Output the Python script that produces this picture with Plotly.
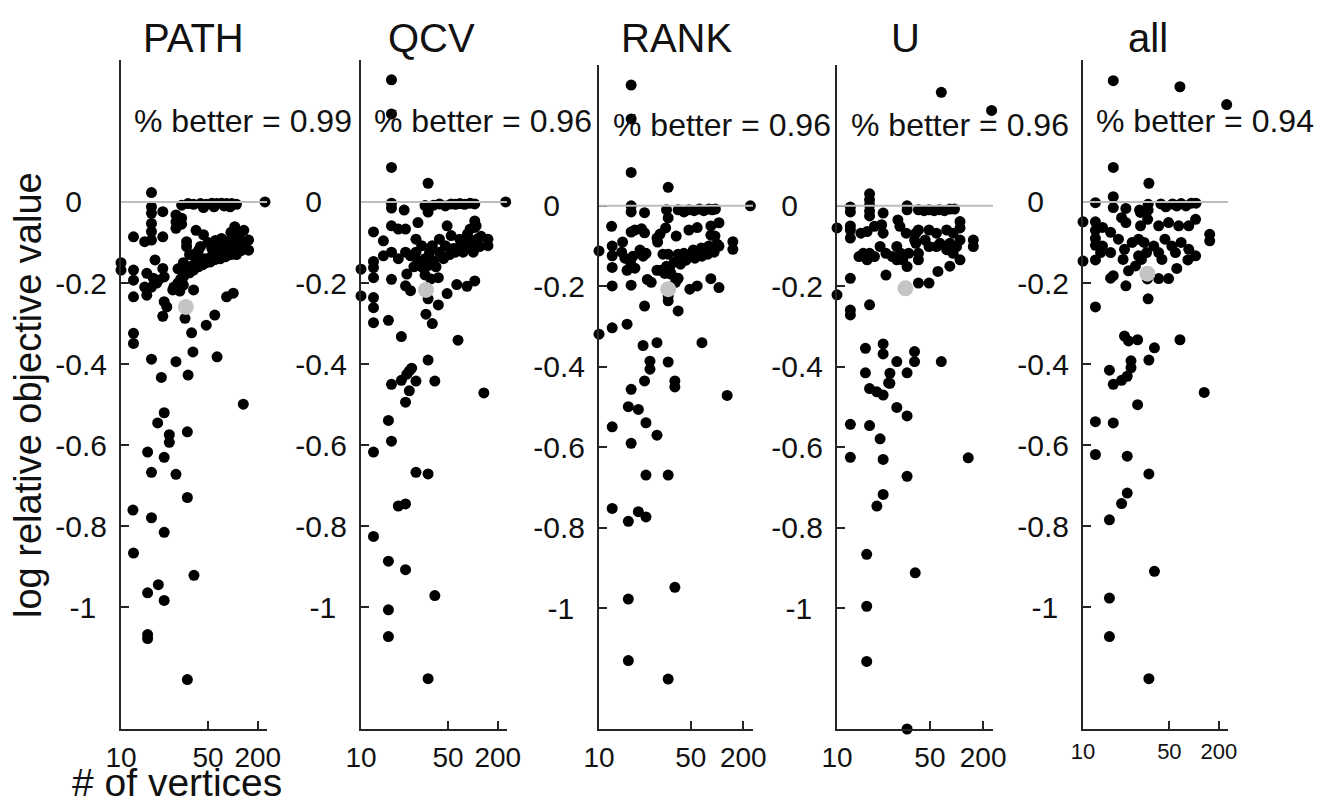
import numpy as np
import plotly.graph_objects as go

methods = ["PATH", "QCV", "RANK", "U", "all"]
pct_better = [0.99, 0.96, 0.96, 0.96, 0.94]

# (number of vertices, log relative objective value)
path_pts = [(16,0.023),(254,0.0),(16,-0.012),(16,-0.028),(16,-0.053),(19.5,-0.024),(25,-0.032),(25,-0.049),(25,-0.065),
 (28,-0.008),(32,-0.004),(36,-0.006),(42,-0.004),(48,-0.006),(55,-0.003),(62,-0.004),(70,-0.003),(80,-0.004),(92,-0.004),(105,-0.006),(45,-0.014),(58,-0.012),(75,-0.01),(88,-0.012),
 (12,-0.086),(14.3,-0.098),(16,-0.094),(19.5,-0.086),(16,-0.073),(31,-0.098),(45,-0.081),(100,-0.061),(150,-0.094),(150,-0.119),(80,-0.098),(95,-0.094),
 (10,-0.15),(10,-0.168),(12,-0.168),(12,-0.193),(14.3,-0.21),(16,-0.21),(17.5,-0.2),(17,-0.143),(19.5,-0.164),(14.8,-0.176),(16.5,-0.188),(18,-0.193),(20,-0.185),
 (12,-0.234),(14.8,-0.23),(20,-0.246),(21,-0.259),(23.5,-0.217),(36,-0.217),
 (26,-0.2),(27.5,-0.19),(29,-0.185),(30,-0.178),(31,-0.17),(32,-0.165),(33.5,-0.16),(35,-0.158),(37,-0.152),(39,-0.15),(41,-0.145),(43,-0.147),(46,-0.14),(49,-0.142),(52,-0.138),(55,-0.135),(58,-0.138),(62,-0.13),(66,-0.133),(70,-0.127),(75,-0.13),(80,-0.12),(88,-0.125),(95,-0.118),(105,-0.13),(110,-0.11),(120,-0.1),
 (33,-0.175),(36,-0.168),(40,-0.16),(44,-0.155),(48,-0.15),(53,-0.148),(60,-0.142),(68,-0.14),(78,-0.135),(90,-0.13),(100,-0.122),(36,-0.13),(42,-0.11),(55,-0.115),(65,-0.105),(85,-0.1),(100,-0.09),(120,-0.12),(130,-0.1),
 (31,-0.11),(33,-0.13),(29,-0.15),(40,-0.12),(50,-0.1),(60,-0.095),(70,-0.09),(90,-0.075),(115,-0.08),(130,-0.07),(110,-0.085),(38,-0.07),(28,-0.055),(28,-0.04),(26,-0.165),(24,-0.21),(27,-0.22),(29,-0.205),(96,-0.225),(80,-0.234),
 (30,-0.287),(19.5,-0.282),(59,-0.279),(48,-0.304),(34.5,-0.323),(12,-0.324),(12,-0.349),(35.5,-0.37),(16,-0.388),(25,-0.394),(62.5,-0.382),(19,-0.433),(32,-0.427),(128,-0.499),(20,-0.52),(17.8,-0.545),(22,-0.574),(22,-0.593),(31.5,-0.567),(15,-0.617),(20,-0.63),(16,-0.667),(25,-0.672),(31.5,-0.729),(11.9,-0.76),(16,-0.779),(20,-0.815),(12,-0.866),(36.3,-0.921),(18,-0.944),(15,-0.964),(20,-0.983),(15,-1.067),(15,-1.077),(31.5,-1.178)]

qcv_pts = [(16,0.301),(16,0.217),(16,0.085),(32,0.046),(260,0.0),
 (16,-0.003),(16,-0.015),(20,-0.02),(30,-0.009),(32,-0.025),
 (41,-0.005),(54,-0.005),(67,-0.004),(88,-0.003),(36,-0.008),(47,-0.01),(60,-0.006),(76,-0.006),(100,-0.005),
 (16,-0.059),(18,-0.067),(20.5,-0.067),(26,-0.051),(12,-0.074),(14,-0.096),(49,-0.059),(100,-0.047),(100,-0.063),(88,-0.067),(147,-0.092),(147,-0.108),
 (10,-0.166),(10,-0.232),(12,-0.147),(12,-0.162),(12,-0.187),(16,-0.191),(21,-0.178),(20.5,-0.207),(22.5,-0.219),
 (40,-0.187),(32,-0.239),(40,-0.254),(49,-0.226),(62,-0.204),(81,-0.208),(100,-0.195),
 (14,-0.133),(16,-0.124),(18,-0.14),(20.5,-0.124),(22.5,-0.133),(25,-0.092),(25,-0.124),(28,-0.108),(30,-0.14),(32,-0.157),(33,-0.124),(35,-0.108),(41,-0.092),(41,-0.124),(47,-0.108),(54,-0.083),(57,-0.115),(60,-0.124),(67,-0.092),(73,-0.124),(82,-0.079),(88,-0.108),(96,-0.124),(104,-0.059),(110,-0.09),(115,-0.11),(45,-0.14),(52,-0.13),(65,-0.112),(78,-0.1),(92,-0.095),(28,-0.16),(30,-0.18),(26,-0.145),(24,-0.16),(36,-0.145),(38,-0.16),(34,-0.19),(120,-0.085),
 (12,-0.236),(12,-0.261),(12,-0.298),(15.2,-0.292),(30.6,-0.277),(35,-0.3),(19,-0.332),(64,-0.341),(32,-0.39),(22,-0.417),(23,-0.41),(21,-0.425),(25,-0.442),(37,-0.442),(16,-0.45),(19,-0.44),(130,-0.471),(22,-0.466),(20.5,-0.494),(15.2,-0.539),(16,-0.59),(12,-0.617),(25,-0.667),(32,-0.671),(18,-0.75),(20.5,-0.745),(12,-0.825),(15.2,-0.886),(20.5,-0.907),(37,-0.971),(15.2,-1.006),(15.2,-1.072),(32,-1.176)]

rank_pts = [(16,0.3),(16,0.216),(16,0.083),(31,0.046),(250,0.0),
 (16,0.0),(16,-0.015),(20,-0.017),(30,-0.01),(31,-0.03),
 (38,-0.01),(48,-0.01),(61,-0.008),(77,-0.008),(91,-0.008),(43,-0.015),(54,-0.012),(68,-0.012),(84,-0.01),
 (11.9,-0.051),(16,-0.065),(17,-0.06),(19,-0.057),(20,-0.067),(26.5,-0.07),(29.5,-0.055),(36.5,-0.075),(48,-0.06),(58,-0.054),(81,-0.05),(100,-0.042),(81,-0.073),(90,-0.075),(147,-0.089),(147,-0.108),
 (10,-0.112),(10,-0.319),(12,-0.1),(12,-0.124),(12,-0.153),(12,-0.199),
 (14,-0.09),(13.8,-0.115),(14.5,-0.13),(15.8,-0.14),(16.5,-0.125),(18.5,-0.11),(19.5,-0.125),(20.5,-0.118),(17,-0.155),(15,-0.16),
 (16,-0.197),(21,-0.183),(22.5,-0.19),(25,-0.16),(27,-0.16),(29,-0.168),(30,-0.15),(32,-0.16),(25,-0.08),(25.3,-0.09),(28,-0.12),(31,-0.12),
 (31,-0.236),(31,-0.224),(20,-0.249),(38,-0.261),(38,-0.18),(49,-0.207),(58,-0.199),(81,-0.181),(100,-0.203),
 (38,-0.12),(43,-0.118),(48,-0.125),(53,-0.11),(58,-0.115),(64,-0.105),(70,-0.112),(77,-0.1),(85,-0.105),(95,-0.095),(100,-0.1),(45,-0.135),(55,-0.13),(65,-0.125),(75,-0.12),(88,-0.115),(40,-0.145),(35,-0.14),(33,-0.17),(36,-0.19),
 (15,-0.294),(12,-0.303),(19.5,-0.347),(25,-0.34),(65,-0.34),(22,-0.386),(22,-0.406),(31,-0.388),(20,-0.435),(35.5,-0.435),(35.5,-0.45),(16,-0.456),(125,-0.471),
 (15.3,-0.499),(18,-0.506),(20.5,-0.539),(12,-0.549),(25,-0.57),(16,-0.59),(20.5,-0.669),(31,-0.669),(12,-0.752),(15.3,-0.784),(18,-0.76),(20.5,-0.773),(35.5,-0.948),(15.3,-0.977),(15.3,-1.13),(31,-1.176)]

u_pts = [(16,0.351),(65,0.282),(260,0.237),
 (16,0.03),(16,0.015),(16,0.002),(16,-0.013),(16,-0.025),(12,-0.003),(12,-0.015),(20,-0.018),(31,0.0),(31,-0.01),
 (39,-0.01),(49,-0.01),(62,-0.01),(80,-0.008),(90,-0.008),(44,-0.012),(55,-0.012),(70,-0.012),
 (10,-0.055),(12,-0.05),(12,-0.06),(12,-0.08),
 (14,-0.068),(15.4,-0.064),(17.3,-0.051),(19.5,-0.047),(20,-0.068),(26,-0.035),(27,-0.051),(30.5,-0.068),(37,-0.068),(39,-0.06),(49,-0.06),(58,-0.068),(74,-0.06),(87,-0.068),(104,-0.039),(104,-0.055),(104,-0.085),(150,-0.085),(150,-0.101),
 (13.6,-0.126),(15.4,-0.134),(16,-0.118),(19,-0.101),(21,-0.118),(23.5,-0.126),(25.5,-0.101),(27.5,-0.118),(28.5,-0.134),(31,-0.151),(32,-0.118),(37,-0.093),(39,-0.118),(39,-0.134),(49,-0.101),(58,-0.101),(74,-0.109),(87,-0.118),(104,-0.134),(14.5,-0.118),(17.3,-0.126),(25.5,-0.134),(36,-0.085),(45,-0.085),(63,-0.093),(80,-0.093),(95,-0.101),
 (12,-0.18),(21,-0.172),(39,-0.192),(49,-0.192),(60,-0.163),(80,-0.15),(10,-0.221),
 (12,-0.259),(12,-0.271),(16,-0.246),(15,-0.354),(20,-0.343),(20,-0.368),(25.5,-0.387),(36,-0.362),(36,-0.387),(65,-0.387),(15,-0.415),(22.5,-0.416),(22.5,-0.441),(31,-0.415),(16,-0.454),(18,-0.462),(20,-0.47),(22,-0.44),
 (25.5,-0.501),(31,-0.522),(12,-0.543),(16,-0.546),(19,-0.579),(12,-0.625),(20,-0.63),(130,-0.626),(31,-0.672),(20,-0.717),(18,-0.746),(15.3,-0.866),(36.5,-0.912),(15.3,-0.995),(15.3,-1.132),(31,-1.3)]

all_pts = [(16,0.351),(16,0.299),(65,0.284),(260,0.24),(16,0.085),(31.5,0.046),
 (16,0.013),(16,-0.014),(12,-0.002),(20,-0.016),(26,-0.02),(31,-0.006),(31,-0.02),
 (41,-0.005),(54,-0.005),(67,-0.004),(88,-0.003),(100,-0.003),(46,-0.012),(60,-0.01),(76,-0.01),
 (10,-0.049),(12,-0.049),(12,-0.07),(12,-0.09),(12,-0.107),
 (13.4,-0.063),(15.3,-0.075),(18.5,-0.039),(20,-0.051),(26.5,-0.026),(26.5,-0.059),(30.7,-0.043),(39,-0.059),(49,-0.051),(63,-0.059),(82,-0.059),(99,-0.043),(150,-0.08),(150,-0.096),
 (13.4,-0.109),(15.3,-0.125),(17.5,-0.092),(19.5,-0.117),(22.5,-0.1),(25.5,-0.133),(28.5,-0.1),(30,-0.125),(35,-0.109),(39,-0.125),(45,-0.092),(53,-0.109),(67,-0.1),(82,-0.117),(99,-0.133),(58,-0.125),(42,-0.142),(25.5,-0.092),(19,-0.142),(13,-0.125),(24,-0.158),(27,-0.142),
 (10,-0.146),(12,-0.143),(60,-0.164),(80,-0.143),(21,-0.17),(15.3,-0.188),(16,-0.182),(20,-0.207),(39,-0.189),(49,-0.189),(30.5,-0.19),
 (12,-0.259),(31,-0.239),(19.5,-0.331),(21,-0.343),(25,-0.34),(65,-0.34),(35.5,-0.36),(31.5,-0.39),(22,-0.392),(22,-0.409),(15,-0.415),(16,-0.45),(18.5,-0.44),(20.5,-0.43),(127,-0.47),
 (25,-0.5),(12,-0.542),(16,-0.545),(12,-0.623),(20.5,-0.627),(31.5,-0.671),(20.5,-0.718),(18.5,-0.744),(15,-0.784),(35.5,-0.911),(15,-0.977),(15,-1.072),(31.5,-1.176)]

median_n = [30.5, 30.6, 31, 30, 30.5]
median_y = [-0.259, -0.217, -0.207, -0.205, -0.177]

x_tick_vals = [10, 50, 200]
y_tick_vals = [0, -0.2, -0.4, -0.6, -0.8, -1]
y_tick_text = ["0\u2007\u2008", "-0.2", "-0.4", "-0.6", "-0.8", "-1\u2008\u200a"]

panels = [path_pts, qcv_pts, rank_pts, u_pts, all_pts]

W, H = 1326, 807
M = 40
PW, PH = W - 2 * M, H - 2 * M


def fx(px):
    return (px - M) / PW


def fy(py):
    return 1 - (py - M) / PH


FONT = "Liberation Sans"
AX = "#262626"
TXT = "#111111"
x_dom_px = [(121, 267), (361, 507), (599, 753), (837, 993), (1083, 1228)]
y_top_px = [60, 60, 65, 65, 60]
y_bot_px = 729
x_range = [np.log10(np.log(10)), np.log10(np.log(272))]
title_x_px = [193, 431, 676, 905, 1148]

fig = go.Figure()
layout = dict(width=W, height=H, autosize=False, margin=dict(l=M, r=M, t=M, b=M, pad=0),
              paper_bgcolor="white", plot_bgcolor="white", showlegend=False,
              font=dict(family=FONT, color=TXT))
annotations = []
shapes = []
for i, pts in enumerate(panels):
    k = "" if i == 0 else str(i + 1)
    n = np.array([p[0] for p in pts], dtype=float)
    v = np.array([p[1] for p in pts], dtype=float)
    fig.add_trace(go.Scatter(x=np.log(n), y=v, mode="markers", xaxis="x" + k, yaxis="y" + k,
                             marker=dict(size=11, color="black", line=dict(width=0)), cliponaxis=False))
    fig.add_trace(go.Scatter(x=[np.log(median_n[i])], y=[median_y[i]], mode="markers", xaxis="x" + k, yaxis="y" + k,
                             marker=dict(size=16, color="#c4c4c4", line=dict(width=0)), cliponaxis=False))
    x0, x1 = x_dom_px[i]
    layout["xaxis" + k] = dict(type="log", range=x_range, domain=[fx(x0), fx(x1)], anchor="y" + k,
                               showline=True, linecolor=AX, linewidth=2, ticks="inside", ticklen=8,
                               tickwidth=1.5, tickcolor=AX, tickvals=list(np.log(x_tick_vals)),
                               ticktext=[str(t) for t in x_tick_vals],
                               tickfont=dict(size=22 if i == 4 else 28, family=FONT, color=TXT),
                               showgrid=False, zeroline=False, ticklabelstandoff=2, automargin=False)
    layout["yaxis" + k] = dict(range=[-1.3, 0.35], domain=[fy(y_bot_px), fy(y_top_px[i])], anchor="x" + k,
                               showline=True, linecolor=AX, linewidth=2, ticks="inside", ticklen=8,
                               tickwidth=1.5, tickcolor=AX, tickvals=y_tick_vals, ticktext=y_tick_text,
                               tickfont=dict(size=30, family=FONT, color=TXT),
                               showgrid=False, zeroline=False, ticklabelstandoff=6, automargin=False)
    shapes.append(dict(type="line", xref="x" + k + " domain", x0=0, x1=1, yref="y" + k, y0=0, y1=0,
                       line=dict(color="#bdbdbd", width=2), layer="above"))
    annotations.append(dict(text=methods[i], xref="paper", yref="paper", x=fx(title_x_px[i]), y=fy(38),
                            xanchor="center", yanchor="middle", showarrow=False,
                            font=dict(size=40, family=FONT, color=TXT)))
    annotations.append(dict(text="% better = " + format(pct_better[i], ".2f"), xref="x" + k + " domain", yref="y" + k,
                            x=0.075, y=0.2, xanchor="left", yanchor="middle", showarrow=False,
                            font=dict(size=32, family=FONT, color=TXT)))

annotations.append(dict(text="log relative objective value", xref="paper", yref="paper", x=fx(28), y=fy(395),
                        xanchor="center", yanchor="middle", textangle=-90, showarrow=False,
                        font=dict(size=38, family=FONT, color=TXT)))
annotations.append(dict(text="# of vertices", xref="paper", yref="paper", x=fx(177), y=fy(806),
                        xanchor="center", yanchor="bottom", showarrow=False,
                        font=dict(size=39, family=FONT, color=TXT)))
layout["annotations"] = annotations
layout["shapes"] = shapes
fig.update_layout(**layout)
fig.write_html("out.html", config={"displayModeBar": False},
               post_script="document.body.style.margin='0px';document.body.style.overflow='hidden';")
